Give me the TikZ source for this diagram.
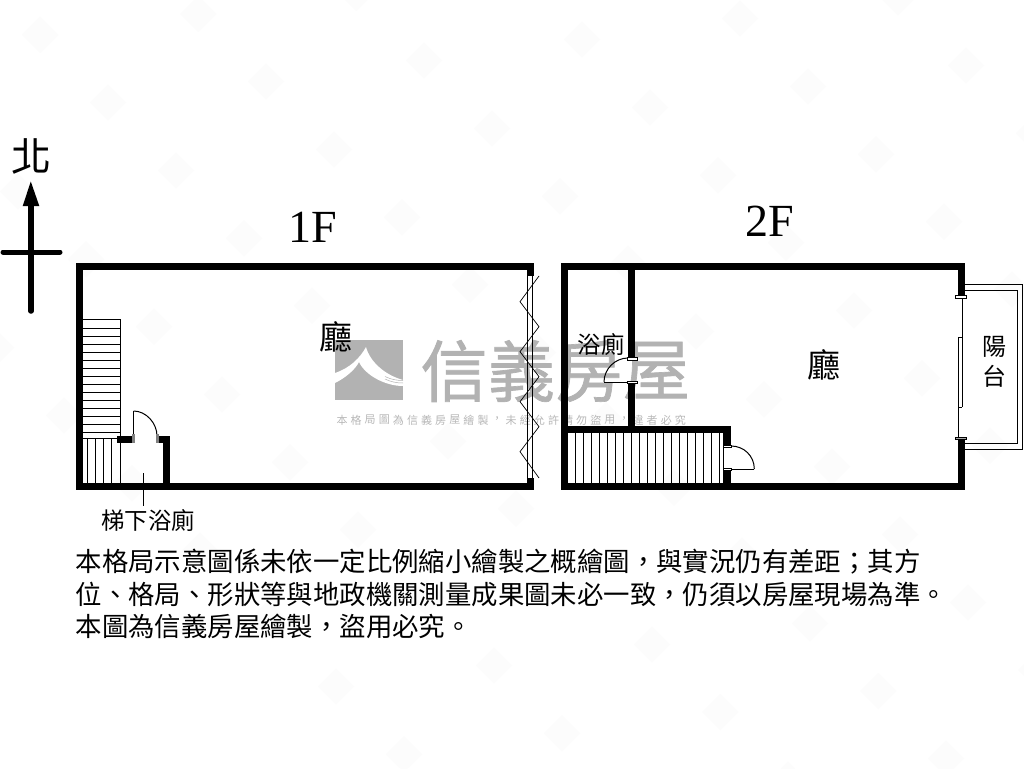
\documentclass[tikz,border=0pt]{standalone}
\usepackage{fontspec}
\setmainfont{Noto Sans CJK TC}
\newfontfamily\latinserif{Liberation Serif}
\newfontfamily\wmfont[FakeBold=1]{Noto Sans CJK TC}
\definecolor{wm}{gray}{0.70}
\definecolor{wmsmall}{gray}{0.72}
\definecolor{tile}{gray}{0.989}
\tikzset{
  wall/.style={fill=black,draw=none},
  thin line/.style={draw=black,line width=0.9pt},
  tread/.style={draw=black,line width=0.8pt},
  door/.style={draw=black,line width=1pt},
  jamb/.style={draw=black,fill=white,line width=0.7pt},
  label/.style={inner sep=0pt,text=black},
  wmtext/.style={inner sep=0pt,text=wm,font=\fontsize{67}{67}\wmfont},
  wmglyph/.style={inner sep=0pt,text=wmsmall,font=\fontsize{11}{11}\selectfont},
}
\begin{document}
\begin{tikzpicture}[x=1pt,y=-1pt]
\useasboundingbox (0,0) rectangle (1024,768);
\fill[white] (0,0) rectangle (1024,768);
% faint background tiling
\begin{scope}
\clip (0,0) rectangle (1024,768);
\foreach \k in {-7,...,12}{
  \foreach \m in {-2,...,8}{
    \pgfmathsetmacro{\cx}{40+68*\k+158*\m}
    \pgfmathsetmacro{\cy}{35+67.7*\k-21*\m}
    \fill[tile] (\cx-18,\cy) -- (\cx,\cy-18) -- (\cx+18,\cy) -- (\cx,\cy+18) -- cycle;
  }
}
\end{scope}
% watermark
\fill[wm] (335,340) rectangle (403,400);
\fill[white] (335,373) .. controls (350,368) and (360,358) .. (366,347)
  .. controls (370,362) and (385,375) .. (403,380) -- (403,386)
  .. controls (385,386) and (365,375) .. (359,362)
  .. controls (355,370) and (345,378) .. (335,383) -- cycle;
\foreach \s in {380.5,383}{\draw[wm,line width=0.5pt] (385,\s-4) .. controls (391,\s-1) and (397,\s) .. (403,\s);}
\foreach \n/\c/\xx in {a/信/454,b/義/521.5,c/房/589,d/屋/656.5}{
  \node[wmtext] (wm\n) at (\xx,371) {\c};
}
\foreach \c [count=\i from 0] in {本,格,局,圖,為,信,義,房,屋,繪,製,，,未,經,允,許,請,勿,盜,用,，,違,者,必,究}{
  \node[wmglyph] (wms\i) at ({342+14.1*\i},420) {\c};
}
% 1F walls
\fill[wall] (75.5,262.5) rectangle (533.5,269.5);
\fill[wall] (75.5,262.5) rectangle (82.5,489.5);
\fill[wall] (75.5,482.5) rectangle (533.5,489.5);
\fill[wall] (526.5,262.5) rectangle (533.5,276);
\fill[wall] (526.5,478) rectangle (533.5,489.5);
\draw[thin line] (527.5,276) -- (527.5,478);
\draw[thin line] (532.5,276) -- (532.5,478);
\draw[draw=black,line width=0.7pt] (539,276) -- (520,301.7) -- (539,326.7) -- (520,351.7) -- (539,376.7) -- (520,401.7) -- (539,426.7) -- (520,451.7) -- (539,478);
% 1F stairs
\draw[tread] (82,319.5) -- (120.5,319.5) -- (120.5,483);
\foreach \y in {328,336,344,352,360,368,376,384,392,400,408,416,424,432}{\draw[tread] (82,\y) -- (120.5,\y);}
\draw[tread] (82,438) -- (120.5,438);
\foreach \x in {87.5,95.7,103.7,111.7}{\draw[tread] (\x,438) -- (\x,483);}
% 1F bath
\fill[wall] (117,435.5) rectangle (133,442.5);
\fill[wall] (157,435.5) rectangle (169.5,442.5);
\fill[wall] (162.5,435.5) rectangle (169.5,483);
\draw[door] (133.5,411) .. controls (146,411) and (157,423) .. (157,436);
\draw[door] (133.5,411) -- (133.5,436);
\fill[black!50] (132,434) rectangle (135,443);
\fill[black!50] (155.5,434) rectangle (158.5,443);
\node[label,font=\fontsize{23.4}{23.4}\selectfont] (bath1) at (148,520) {梯下浴廁};
\coordinate (bath1in) at (143,473);
\draw[draw=black,line width=1pt] (bath1in) -- (143,506);
% 2F walls
\fill[wall] (560.5,262.5) rectangle (964.5,269.5);
\fill[wall] (560.5,262.5) rectangle (567.5,489.5);
\fill[wall] (560.5,482.5) rectangle (964.5,489.5);
\fill[wall] (957.5,262.5) rectangle (964.5,296);
\fill[wall] (957.5,438) rectangle (964.5,489.5);
\fill[wall] (628,269) rectangle (635,358);
\fill[wall] (628,382) rectangle (635,433);
\fill[wall] (567,426) rectangle (731,433);
\fill[wall] (724,426) rectangle (731,446);
\fill[wall] (724,469) rectangle (731,483);
% 2F stairs
\foreach \k in {0,...,18}{\draw[tread] ({575.7+8*\k},433) -- ({575.7+8*\k},483);}
\draw[tread] (723.5,433) -- (723.5,483);
% 2F doors
\draw[door] (628,358) .. controls (615,358) and (604,369) .. (604,382);
\draw[door] (604,382) -- (637,382);
\draw[jamb] (627,357.2) rectangle (637,360);
\draw[jamb] (627,381) rectangle (637,383.6);
\draw[door] (731,446) .. controls (744,446) and (754.3,456) .. (754.3,469);
\draw[door] (754.3,469) -- (723,469);
\draw[jamb] (723,445) rectangle (731,447.5);
\draw[jamb] (723,468) rectangle (731,470.5);
% balcony
\draw[draw=black,line width=1pt] (964,284.5) -- (1022.7,284.5) -- (1022.7,449) -- (964,449);
\draw[draw=black,line width=1pt] (964,290.7) -- (1017.7,290.7) -- (1017.7,443) -- (964,443);
\draw[draw=black,line width=0.7pt] (962.3,298) -- (962.3,407);
\draw[draw=black,line width=0.7pt] (958.3,337) -- (958.3,437);
\draw[draw=black,line width=0.7pt] (958.3,337) -- (962.3,337);
\draw[draw=black,line width=0.7pt] (958.3,407) -- (962.3,407);
\draw[jamb] (955.5,295) rectangle (966.5,298);
\draw[draw=black,fill=black!35,line width=0.7pt] (955.5,437) rectangle (966.5,439.5);
% labels
\node[label,font=\fontsize{46}{46}\selectfont\latinserif] (f1) at (313,227) {1F};
\node[label,font=\fontsize{46}{46}\selectfont\latinserif] (f2) at (770,221) {2F};
\node[label,font=\fontsize{33}{33}\selectfont] (hall1) at (336,337) {廳};
\node[label,font=\fontsize{33}{33}\selectfont] (hall2) at (823.5,365) {廳};
\node[label,font=\fontsize{23.4}{23.4}\selectfont] (bath2) at (601,344) {浴廁};
\node[label,font=\fontsize{24}{24}\selectfont] (bal1) at (994,347) {陽};
\node[label,font=\fontsize{24}{24}\selectfont] (bal2) at (994,376) {台};
\node[label,font=\fontsize{40}{40}\selectfont] (north) at (32,156.5) {北};
% compass
\coordinate (ntop) at (31,205);
\coordinate (nbot) at (31,311);
\coordinate (ew) at (3,252);
\coordinate (ee) at (60,252);
\draw[draw=black,line width=5.5pt,line cap=round] (ntop) -- (nbot);
\draw[draw=black,line width=5pt,line cap=round] (ew) -- (ee);
\fill[black] (30.8,181.5) -- (39.3,206) -- (22.7,206) -- cycle;
% note
\node[label,anchor=west,font=\fontsize{26.4}{26.4}\selectfont] (n1) at (75.5,562) {本格局示意圖係未依一定比例縮小繪製之概繪圖，與實況仍有差距；其方};
\node[label,anchor=west,font=\fontsize{26.4}{26.4}\selectfont] (n2) at (75.5,594) {位、格局、形狀等與地政機關測量成果圖未必一致，仍須以房屋現場為準。};
\node[label,anchor=west,font=\fontsize{26.4}{26.4}\selectfont] (n3) at (75.5,626) {本圖為信義房屋繪製，盜用必究。};
\end{tikzpicture}
\end{document}
